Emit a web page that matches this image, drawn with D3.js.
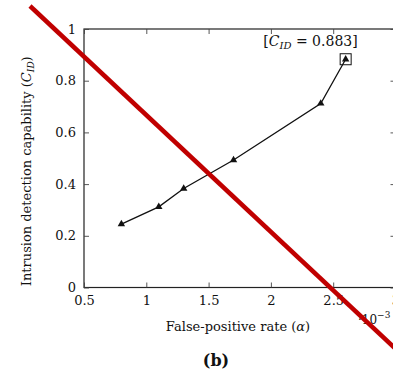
<!DOCTYPE html>
<html>
<head>
<meta charset="utf-8">
<script src="https://cdn.jsdelivr.net/npm/d3@7"></script>
<style>
  html, body { margin: 0; padding: 0; background: #fff; }
  svg { display: block; }
  text { font-family: "DejaVu Serif", serif; fill: #111; }
</style>
</head>
<body>
<svg id="chart" width="393" height="385"></svg>
<script>
// False-positive rate (×10^-3) against intrusion detection capability
const falsePositiveRate = [0.8, 1.1, 1.3, 1.7, 2.4, 2.6];
const detectionCapability = [0.245, 0.312, 0.383, 0.493, 0.712, 0.883];
const xTicks = [0.5, 1, 1.5, 2, 2.5, 3];
const yTicks = [0, 0.2, 0.4, 0.6, 0.8, 1];
const highlightValue = 0.883;

const svg = d3.select("#chart");
const plot = { left: 84, right: 395.5, top: 29, bottom: 287.5 };

const x = d3.scaleLinear().domain([0.5, 3]).range([plot.left, plot.right]);
const y = d3.scaleLinear().domain([0, 1]).range([plot.bottom, plot.top]);

const fmt = d => String(d);

// frame
svg.append("rect")
  .attr("x", plot.left).attr("y", plot.top)
  .attr("width", plot.right - plot.left).attr("height", plot.bottom - plot.top)
  .attr("fill", "none").attr("stroke", "#222").attr("stroke-width", 1.2);

// axes with inward ticks
const axisStyle = g => {
  g.select(".domain").remove();
  g.selectAll(".tick line").attr("stroke", "#444").attr("stroke-width", 0.9);
  g.selectAll(".tick text")
    .style("font-family", "'DejaVu Serif', serif")
    .style("font-size", "13px").attr("fill", "#111");
};

svg.append("g").attr("transform", `translate(0,${plot.bottom})`)
  .call(d3.axisBottom(x).tickValues(xTicks).tickFormat(fmt).tickSizeInner(-5).tickSizeOuter(0).tickPadding(8))
  .call(axisStyle);
svg.append("g").attr("transform", `translate(0,${plot.top})`)
  .call(d3.axisTop(x).tickValues(xTicks).tickFormat("").tickSizeInner(-5).tickSizeOuter(0))
  .call(axisStyle);
svg.append("g").attr("transform", `translate(${plot.left},0)`)
  .call(d3.axisLeft(y).tickValues(yTicks).tickFormat(fmt).tickSizeInner(-5).tickSizeOuter(0).tickPadding(8))
  .call(axisStyle);
svg.append("g").attr("transform", `translate(${plot.right},0)`)
  .call(d3.axisRight(y).tickValues(yTicks).tickFormat("").tickSizeInner(-5).tickSizeOuter(0))
  .call(axisStyle);

// data line and markers
const pts = falsePositiveRate.map((v, i) => [v, detectionCapability[i]]);
svg.append("path")
  .datum(pts)
  .attr("d", d3.line().x(d => x(d[0])).y(d => y(d[1])))
  .attr("fill", "none").attr("stroke", "#111").attr("stroke-width", 1.3);

svg.selectAll(".marker").data(pts).join("path")
  .attr("class", "marker")
  .attr("transform", d => `translate(${x(d[0])},${y(d[1])})`)
  .attr("d", d3.symbol(d3.symbolTriangle, 24))
  .attr("fill", "#111");

// highlighted maximum
const last = pts[pts.length - 1];
svg.append("rect")
  .attr("x", x(last[0]) - 5.5).attr("y", y(last[1]) - 5.5)
  .attr("width", 11).attr("height", 11)
  .attr("fill", "none").attr("stroke", "#111").attr("stroke-width", 1);

const ann = svg.append("text")
  .attr("x", x(last[0]) + 12).attr("y", y(last[1]) - 13)
  .attr("text-anchor", "end").style("font-size", "14px");
ann.append("tspan").text("[");
ann.append("tspan").style("font-style", "italic").text("C");
ann.append("tspan").style("font-style", "italic").style("font-size", "10px").attr("dy", 3).text("ID");
ann.append("tspan").attr("dy", -3).text(" = " + highlightValue.toFixed(3) + "]");

// axis titles
const yl = svg.append("text")
  .attr("transform", `translate(31,${(plot.top + plot.bottom) / 2 + 13}) rotate(-90)`)
  .attr("text-anchor", "middle").style("font-size", "13px");
yl.append("tspan").text("Intrusion detection capability (");
yl.append("tspan").style("font-style", "italic").text("C");
yl.append("tspan").style("font-style", "italic").style("font-size", "9px").attr("dy", 3).text("ID");
yl.append("tspan").attr("dy", -3).text(")");

const xl = svg.append("text")
  .attr("x", 238).attr("y", 331)
  .attr("text-anchor", "middle").style("font-size", "13px");
xl.append("tspan").text("False-positive rate (");
xl.append("tspan").style("font-style", "italic").text("α");
xl.append("tspan").text(")");

const mult = svg.append("text").attr("x", 358).attr("y", 324).style("font-size", "12px");
mult.append("tspan").text("·10");
mult.append("tspan").attr("dy", -6).style("font-size", "9px").text("−3");

svg.append("text")
  .attr("x", 216).attr("y", 366)
  .attr("text-anchor", "middle")
  .style("font-size", "16px").style("font-weight", "bold")
  .text("(b)");

// diagonal strike-through overlay
svg.append("line")
  .attr("x1", 30).attr("y1", 6).attr("x2", 398).attr("y2", 351)
  .attr("stroke", "#c00000").attr("stroke-width", 4.5);
</script>
</body>
</html>
